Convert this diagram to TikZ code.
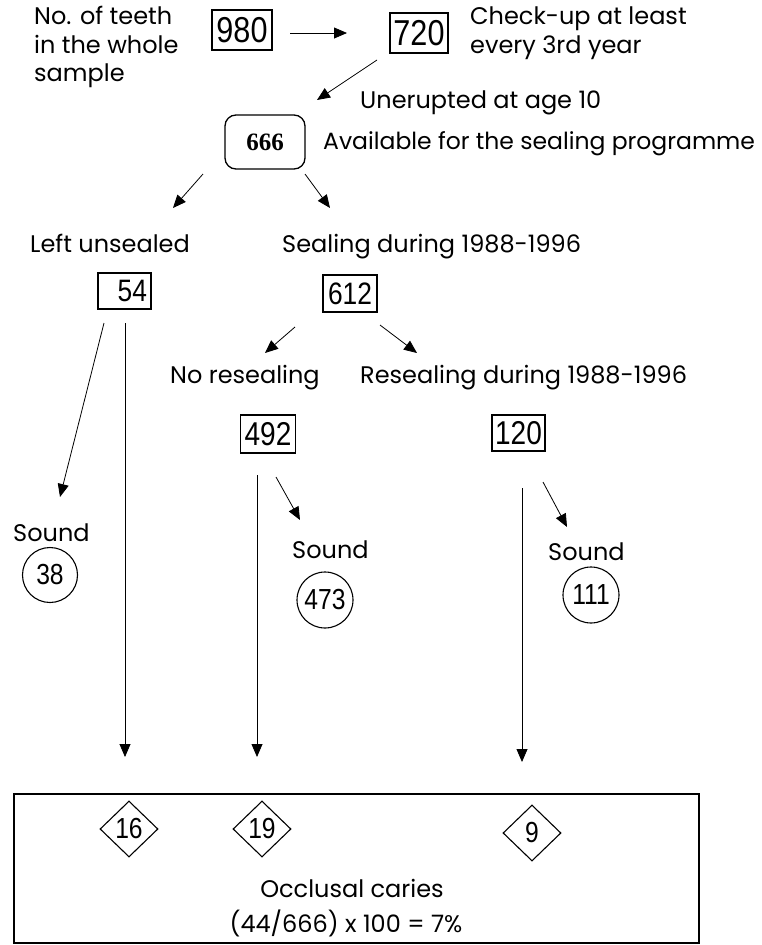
\documentclass[tikz,border=0pt]{standalone}
\usepackage{fontspec}
\setmainfont{Poppins}
\newfontfamily\numfont[FakeStretch=0.85]{Liberation Sans}
\newfontfamily\serifnum{Liberation Serif}
\usetikzlibrary{arrows.meta,shapes.geometric}
\begin{document}
\begin{tikzpicture}[x=1pt,y=-1pt,
  lbl/.style={anchor=base west, inner sep=0pt, font=\fontsize{24}{24}\selectfont},
  ctr/.style={anchor=base, inner sep=0pt, font=\fontsize{24}{24}\selectfont},
  numbox/.style={draw, line width=1.3pt, inner sep=0pt, font=\numfont\fontsize{33}{33}\selectfont},
  circnum/.style={circle, draw, line width=1.1pt, inner sep=0pt, minimum size=55pt, font=\numfont\fontsize{29}{29}\selectfont},
  dianum/.style={diamond, draw, line width=1.1pt, inner sep=0pt, minimum width=58pt, minimum height=56pt, font=\numfont\fontsize{29}{29}\selectfont},
  arr/.style={line width=0.8pt, -{Triangle[length=13pt,width=11pt]}}
]
\useasboundingbox (0,0) rectangle (761,945);

% texts
\node[lbl] (t1) at (34,24) {No. of teeth};
\node[lbl] (t2) at (34,53) {in the whole};
\node[lbl] (t3) at (34,81) {sample};
\node[lbl] (c1) at (470,24) {Check-up at least};
\node[lbl] (c2) at (470,53) {every 3rd year};
\node[lbl] (une) at (360,108) {Unerupted at age 10};
\node[lbl, font=\fontsize{23.5}{24}\selectfont] (avl) at (323,149) {Available for the sealing programme};
\node[lbl] (lu) at (30,252) {Left unsealed};
\node[lbl] (sd) at (282,252) {Sealing during 1988-1996};
\node[lbl] (nr) at (170,383) {No resealing};
\node[lbl] (rd) at (360,383) {Resealing during 1988-1996};
\node[lbl] (s1) at (13,541) {Sound};
\node[lbl] (s2) at (292,558) {Sound};
\node[lbl] (s3) at (548,560) {Sound};

% boxes
\node[numbox, minimum width=60pt, minimum height=40pt, font=\numfont\fontsize{36}{36}\selectfont] (n980) at (242,30) {980};
\node[numbox, minimum width=58pt, minimum height=40pt, font=\numfont\fontsize{36}{36}\selectfont] (n720) at (419,33) {720};
\node[numbox, rounded corners=11pt, minimum width=80pt, minimum height=54pt,
      font=\serifnum\bfseries\fontsize{25}{25}\selectfont] (n666) at (265,142) {666};
\node[numbox, minimum width=53pt, minimum height=36pt, text width=45pt, align=right,
      font=\numfont\fontsize{31}{31}\selectfont] (n54) at (124.5,291) {54};
\node[numbox, minimum width=54pt, minimum height=37pt,
      font=\numfont\fontsize{31}{31}\selectfont] (n612) at (350,293.5) {612};
\node[numbox, minimum width=55pt, minimum height=38pt] (n492) at (268,434) {492};
\node[numbox, minimum width=53pt, minimum height=36pt] (n120) at (518.5,433) {120};

% circles
\node[circnum] (c38) at (50,575) {38};
\node[circnum, minimum size=56pt] (c473) at (325,600) {473};
\node[circnum, minimum size=56pt] (c111) at (591,595) {111};

% result box
\node[draw, line width=1.3pt, minimum width=685pt, minimum height=149pt, inner sep=0pt] (res) at (356.5,868.5) {};
\node[dianum] (d16) at (129,829) {16};
\node[dianum] (d19) at (262,829) {19};
\node[dianum] (d9) at (532,833) {9};
\node[ctr] (occ) at (352,897) {Occlusal caries};
\node[ctr] (calc) at (346,932) {(44/666) x 100 = 7\%};

% connector end points
\coordinate (a1s) at (290,33);   \coordinate (a1e) at (347,33);
\coordinate (a2s) at (377,60);   \coordinate (a2e) at (317,100);
\coordinate (a3s) at (203,174);  \coordinate (a3e) at (173,208);
\coordinate (a4s) at (305,174);  \coordinate (a4e) at (330,208);
\coordinate (a5s) at (295,327);  \coordinate (a5e) at (265,353);
\coordinate (a6s) at (380,325);  \coordinate (a6e) at (417,353);
\coordinate (a7s) at (104,323);  \coordinate (a7e) at (60,497);
\coordinate (v1s) at (125,323);  \coordinate (v1e) at (125,757);
\coordinate (a8s) at (276,477);  \coordinate (a8e) at (300,520);
\coordinate (v2s) at (257,475);  \coordinate (v2e) at (257,757);
\coordinate (a9s) at (543,482);  \coordinate (a9e) at (567,527);
\coordinate (v3s) at (522,488);  \coordinate (v3e) at (522,762);

\draw[arr] (a1s) -- (a1e);
\draw[arr] (a2s) -- (a2e);
\draw[arr] (a3s) -- (a3e);
\draw[arr] (a4s) -- (a4e);
\draw[arr] (a5s) -- (a5e);
\draw[arr] (a6s) -- (a6e);
\draw[arr] (a7s) -- (a7e);
\draw[arr] (v1s) -- (v1e);
\draw[arr] (a8s) -- (a8e);
\draw[arr] (v2s) -- (v2e);
\draw[arr] (a9s) -- (a9e);
\draw[arr] (v3s) -- (v3e);
\end{tikzpicture}
\end{document}
